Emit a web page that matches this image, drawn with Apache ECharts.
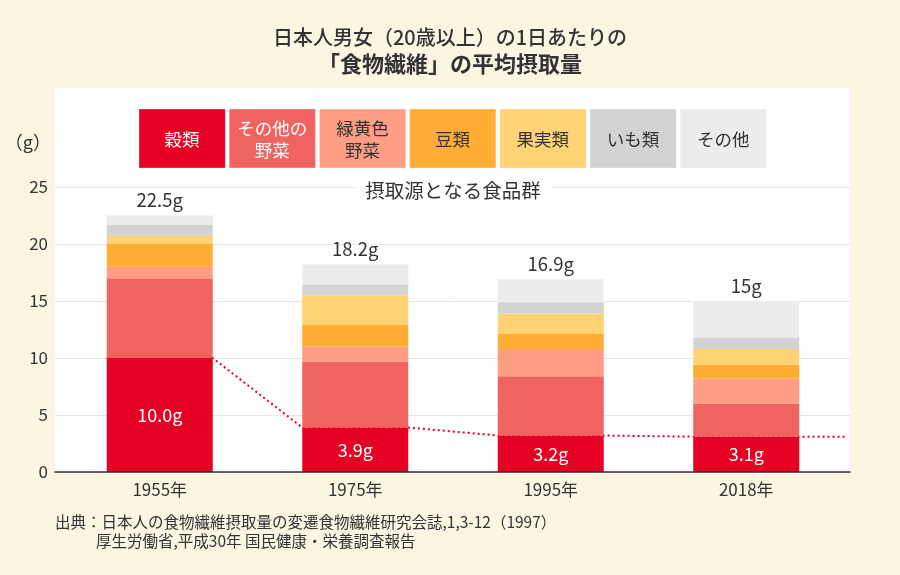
<!DOCTYPE html>
<html><head><meta charset="utf-8">
<script src="https://cdn.jsdelivr.net/npm/echarts@6/dist/echarts.min.js"></script>
<style>html,body{margin:0;padding:0;background:#FAF6E1}#c{width:900px;height:575px}</style>
</head><body><div id="c"></div>
<script>
const years = ['1955年', '1975年', '1995年', '2018年'];
const seriesNames = ['穀類', 'その他の野菜', '緑黄色野菜', '豆類', '果実類', 'いも類', 'その他'];
const legendLabels = ['穀類', 'その他の\n野菜', '緑黄色\n野菜', '豆類', '果実類', 'いも類', 'その他'];
const grains = [10.0, 3.9, 3.2, 3.1];
const otherVeg = [7.0, 5.8, 5.2, 2.9];
const gyVeg = [1.0, 1.3, 2.4, 2.2];
const beans = [2.0, 1.9, 1.3, 1.2];
const fruits = [0.7, 2.6, 1.8, 1.4];
const potatoes = [1.0, 0.9, 1.0, 1.0];
const others = [0.8, 1.8, 2.0, 3.2];
const totals = [22.5, 18.2, 16.9, 15];
const yTicks = [0, 5, 10, 15, 20, 25];

const colors = ['#E60023', '#EF6461', '#FF9D85', '#FFAD33', '#FFD273', '#D3D3D3', '#ECECEC'];
const legendTextColors = ['#fff', '#fff', '#333', '#333', '#333', '#333', '#333'];
const FONT = '"Noto Sans CJK JP", "Noto Sans", sans-serif';
const values = [grains, otherVeg, gyVeg, beans, fruits, potatoes, others];

const H = 0.271;   // half bar width in category units
const EXT = 0.035; // extension past last band
const linePts = [];
grains.forEach((v, i) => { linePts.push([i + 0.5 - H, v], [i + 0.5 + H, v]); });
linePts.push([years.length + EXT, grains[grains.length - 1]]);

const barSeries = seriesNames.map((name, k) => {
  const s = {
    type: 'bar', name: name, stack: 'total', xAxisIndex: 1, yAxisIndex: 1,
    barWidth: 106, data: values[k], itemStyle: { color: colors[k] }, z: 3
  };
  if (k === 0) {
    s.label = { show: true, position: 'inside', color: '#fff', fontSize: 18, fontFamily: FONT,
      formatter: p => p.value.toFixed(1) + 'g' };
  }
  if (k === seriesNames.length - 1) {
    s.label = { show: true, position: 'top', distance: 6, color: '#333', fontSize: 18.5, fontFamily: FONT,
      formatter: p => totals[p.dataIndex] + 'g' };
  }
  return s;
});

const graphics = [
  { type: 'rect', shape: { x: 55, y: 88, width: 795, height: 384 }, style: { fill: '#fff' }, z: -10 }
];
legendLabels.forEach((t, i) => {
  const x = 139 + i * 90.2;
  graphics.push({ type: 'rect', shape: { x: x, y: 109, width: 86.3, height: 59 },
    style: { fill: colors[i], stroke: 'rgba(255,255,255,0.35)', lineWidth: 1 }, z: 10 });
  graphics.push({ type: 'text', x: x + 43, y: 139, z: 11,
    style: { text: t, fill: legendTextColors[i], fontSize: 17.5, fontFamily: FONT, lineHeight: 22,
      align: 'center', verticalAlign: 'middle' } });
});
graphics.push({ type: 'text', x: 453, y: 191, z: 11,
  style: { text: '摂取源となる食品群', fill: '#333', fontSize: 19.5, fontFamily: FONT,
    backgroundColor: '#fff', padding: [2, 10], align: 'center', verticalAlign: 'middle' } });
graphics.push({ type: 'text', x: 51, y: 142, z: 11,
  style: { text: '（g）', fill: '#333', fontSize: 18, fontFamily: FONT, align: 'right', verticalAlign: 'middle' } });
graphics.push({ type: 'text', x: 55, y: 522, z: 11,
  style: { text: '出典：日本人の食物繊維摂取量の変遷食物繊維研究会誌,1,3-12（1997）', fill: '#333', fontSize: 15.5,
    fontFamily: FONT, align: 'left', verticalAlign: 'middle' } });
graphics.push({ type: 'text', x: 96, y: 541, z: 11,
  style: { text: '厚生労働省,平成30年 国民健康・栄養調査報告', fill: '#333', fontSize: 15.5,
    fontFamily: FONT, align: 'left', verticalAlign: 'middle' } });

const chart = echarts.init(document.getElementById('c'), null, { renderer: 'canvas' });
chart.setOption({
  animation: false,
  backgroundColor: '#FAF6E1',
  textStyle: { fontFamily: FONT },
  title: [
    { text: '日本人男女（20歳以上）の1日あたりの', left: 'center', top: 27, padding: 0,
      textStyle: { fontSize: 20, fontWeight: 500, color: '#333', fontFamily: FONT } },
    { text: '「食物繊維」の平均摂取量', left: 'center', top: 53, padding: 0,
      textStyle: { fontSize: 22, fontWeight: 'bold', color: '#333', fontFamily: FONT } }
  ],
  grid: [
    { left: 55, right: 50, top: 187, bottom: 103 },
    { left: 62, right: 56, top: 187, bottom: 103 }
  ],
  xAxis: [
    { gridIndex: 0, type: 'value', min: 0, max: 1, z: 5,
      axisLine: { show: true, lineStyle: { color: '#333', width: 1.5 } },
      axisTick: { show: false }, axisLabel: { show: false }, splitLine: { show: false } },
    { gridIndex: 1, type: 'category', data: years,
      axisLine: { show: false }, axisTick: { show: false },
      axisLabel: { fontSize: 17, color: '#333', margin: 9, fontFamily: FONT } },
    { gridIndex: 1, type: 'value', min: 0, max: years.length, show: false }
  ],
  yAxis: [
    { gridIndex: 0, type: 'value', min: yTicks[0], max: yTicks[yTicks.length - 1], interval: yTicks[1] - yTicks[0],
      axisLine: { show: false }, axisTick: { show: false },
      axisLabel: { fontSize: 17, color: '#333', margin: 7, fontFamily: FONT },
      splitLine: { lineStyle: { color: '#E6E6E6', width: 1 } } },
    { gridIndex: 1, type: 'value', min: yTicks[0], max: yTicks[yTicks.length - 1], show: false }
  ],
  graphic: graphics,
  series: barSeries.concat([
    { type: 'line', xAxisIndex: 2, yAxisIndex: 1, data: linePts, symbol: 'none', clip: false, silent: true, z: 1,
      lineStyle: { color: '#E60023', width: 2, type: [2, 3] } }
  ])
});
</script></body></html>
